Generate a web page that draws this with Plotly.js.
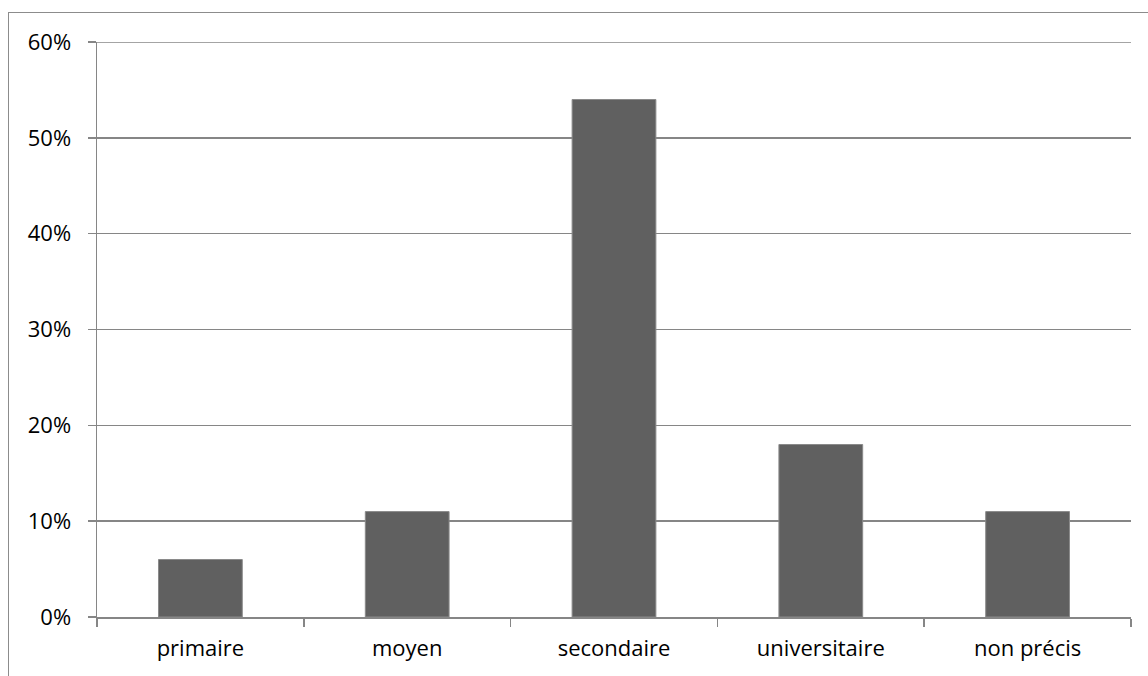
<!DOCTYPE html>
<html>
<head>
<meta charset="utf-8">
<script src="https://cdn.plot.ly/plotly-3.0.1.min.js"></script>
<style>
  html, body { margin: 0; padding: 0; background: #ffffff; }
  #wrap { position: relative; width: 1148px; height: 676px; overflow: hidden; }
  #chart { position: absolute; left: 0; top: 0; width: 1148px; height: 676px; }
  #frame {
    position: absolute; left: 8px; top: 12px; width: 1200px; height: 700px;
    border-left: 1.5px solid #8c8c8c; border-top: 1.5px solid #8c8c8c;
    pointer-events: none;
  }
</style>
</head>
<body>
<div id="wrap">
  <div id="chart"></div>
  <div id="frame"></div>
</div>
<script>
// Niveau d'instruction : part de chaque catégorie
const categories = ["primaire", "moyen", "secondaire", "universitaire", "non précis"];
const shares = [0.06, 0.11, 0.54, 0.18, 0.11];
const yTicks = [0, 0.1, 0.2, 0.3, 0.4, 0.5, 0.6];

const axisGrey = "#868686";
const font = { family: "Open Sans, Liberation Sans, sans-serif", size: 22, color: "#000000" };
const yMax = yTicks[yTicks.length - 1];

const trace = {
  type: "bar",
  x: categories,
  y: shares,
  marker: { color: "#606060", line: { color: "#8a8a8a", width: 1 } },
  hoverinfo: "skip"
};

const layout = {
  width: 1148,
  height: 676,
  margin: { l: 97, r: 17, t: 42, b: 59 },
  paper_bgcolor: "rgba(0,0,0,0)",
  plot_bgcolor: "#ffffff",
  showlegend: false,
  bargap: 0.595,
  font: font,
  // top gridline sits on the plot edge, so draw it explicitly
  shapes: [{
    type: "line", xref: "paper", yref: "y",
    x0: 0, x1: 1, y0: yMax, y1: yMax,
    line: { color: axisGrey, width: 1.5 }
  }],
  xaxis: {
    type: "category",
    showline: true,
    linecolor: axisGrey,
    linewidth: 1.5,
    showgrid: false,
    ticks: "outside",
    tickson: "boundaries",
    ticklen: 8,
    tickwidth: 1.5,
    tickcolor: axisGrey,
    tickfont: font,
    ticklabelstandoff: 11
  },
  yaxis: {
    range: [0, yMax],
    tickvals: yTicks,
    tickformat: ".0%",
    showline: true,
    linecolor: axisGrey,
    linewidth: 1.5,
    showgrid: true,
    gridcolor: axisGrey,
    gridwidth: 1.5,
    zeroline: false,
    ticks: "outside",
    ticklen: 8,
    tickwidth: 1.5,
    tickcolor: axisGrey,
    tickfont: font,
    ticklabelstandoff: 12
  }
};

Plotly.newPlot("chart", [trace], layout, { displayModeBar: false, staticPlot: true });
</script>
</body>
</html>
